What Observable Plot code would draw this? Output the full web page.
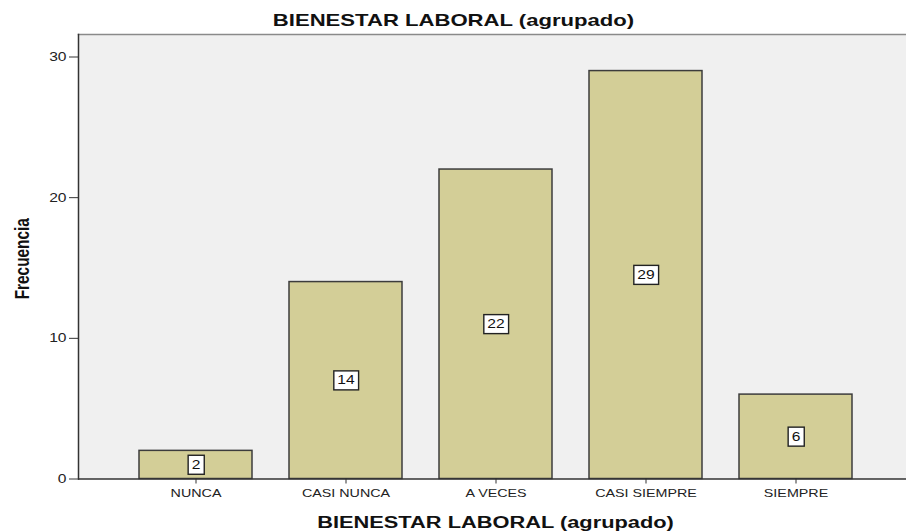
<!DOCTYPE html>
<html>
<head>
<meta charset="utf-8">
<script src="https://cdn.jsdelivr.net/npm/d3@7"></script>
<script src="https://cdn.jsdelivr.net/npm/@observablehq/plot@0.6"></script>
<style>
  html, body { margin: 0; padding: 0; background: #ffffff; }
  #chart svg { display: block; }
</style>
</head>
<body>
<div id="chart"></div>
<script>
const categories = ["NUNCA", "CASI NUNCA", "A VECES", "CASI SIEMPRE", "SIEMPRE"];
const frecuencias = [2, 14, 22, 29, 6];
const yTicks = [0, 10, 20, 30];
const titulo = "BIENESTAR LABORAL (agrupado)";
const tituloX = "BIENESTAR LABORAL (agrupado)";
const tituloY = "Frecuencia";

const data = categories.map((c, i) => ({cat: c, n: frecuencias[i]}));
const STRETCH = 1.3;

const chart = Plot.plot({
  width: 906,
  height: 531,
  marginLeft: 78,
  marginRight: 0,
  marginTop: 34,
  marginBottom: 52.5,
  style: {fontFamily: "'Liberation Sans', Arial, sans-serif", background: "#ffffff", overflow: "visible", color: "#222"},
  x: {domain: categories, range: [100.5, 890.1], padding: 0.25, label: null},
  y: {domain: [0, 31.6], label: null},
  marks: [
    Plot.frame({fill: "#f0f0f0", stroke: null}),
    Plot.barY(data, {x: "cat", y: "n", fill: "#d3ce97", stroke: "#3c3c3c", strokeWidth: 1.5}),
    Plot.frame({anchor: "top", stroke: "#8a8a8a", strokeWidth: 1.5}),
    Plot.axisY({ticks: yTicks, tickSize: 9, tickPadding: 3, fontSize: 12, label: null, stroke: "#333"}),
    Plot.ruleY([0], {stroke: "#333", strokeWidth: 1.5}),
    Plot.frame({anchor: "left", stroke: "#333", strokeWidth: 1.5}),
    Plot.axisX({tickSize: 5, tickPadding: 5, fontSize: 11, label: null, stroke: "#333"}),
    Plot.text(data, {x: "cat", y: d => d.n / 2, text: d => String(d.n), fontSize: 12, fill: "#111"}),
    Plot.text([titulo], {frameAnchor: "top", lineAnchor: "middle", dx: -39, dy: -14, fontWeight: "bold", fontSize: 17, fill: "#111"}),
    Plot.text([tituloX], {frameAnchor: "bottom", lineAnchor: "middle", dx: 3, dy: 43.5, fontWeight: "bold", fontSize: 16.8, fill: "#111"}),
    Plot.text([tituloY], {frameAnchor: "left", textAnchor: "middle", lineAnchor: "middle", dx: -56, dy: 2, rotate: -90, fontWeight: "bold", fontSize: 20, fill: "#111"})
  ]
});

document.getElementById("chart").appendChild(chart);

const textGroups = chart.querySelectorAll("g[aria-label='text']");
const valueGroup = textGroups[0];
const yTitleGroup = textGroups[textGroups.length - 1];

// emulate the horizontally stretched look of the original raster
d3.select(chart).selectAll("text").each(function() {
  const isY = yTitleGroup && yTitleGroup.contains(this);
  const len = this.getComputedTextLength();
  if (!len) return;
  this.setAttribute("textLength", isY ? len / STRETCH : len * STRETCH);
  this.setAttribute("lengthAdjust", "spacingAndGlyphs");
});

// white boxes behind value labels
d3.select(valueGroup).selectAll("text").each(function() {
  const b = this.getBBox();
  const padX = 3.5, h = 19;
  const cy = b.y + b.height / 2;
  const rect = document.createElementNS("http://www.w3.org/2000/svg", "rect");
  rect.setAttribute("x", b.x - padX);
  rect.setAttribute("y", cy - h / 2);
  rect.setAttribute("width", b.width + 2 * padX);
  rect.setAttribute("height", h);
  rect.setAttribute("fill", "#ffffff");
  rect.setAttribute("stroke", "#222");
  rect.setAttribute("stroke-width", 1.4);
  const t = this.getAttribute("transform");
  if (t) rect.setAttribute("transform", t);
  this.parentNode.insertBefore(rect, this);
});
</script>
</body>
</html>
